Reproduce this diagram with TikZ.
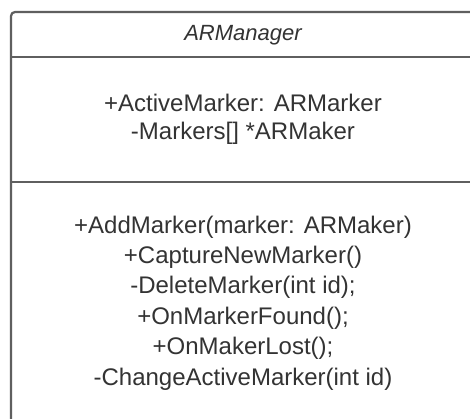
\documentclass[tikz,border=0pt]{standalone}
\usepackage{fontspec}
\setmainfont{Liberation Sans}
\definecolor{umlline}{HTML}{5F5F5F}
\definecolor{umltext}{HTML}{333333}
\tikzset{
  classbox/.style={draw=umlline, line width=2.2pt, rounded corners=4pt},
  divider/.style={draw=umlline, line width=2.2pt},
  classname/.style={anchor=base, inner sep=0pt, text=umltext, font=\fontsize{22}{26}\selectfont\itshape},
  member/.style={anchor=base, inner sep=0pt, text=umltext, font=\fontsize{24}{29}\selectfont},
}
\begin{document}
\begin{tikzpicture}[x=1pt, y=-1pt]
  \useasboundingbox (0,0) rectangle (470,418);
  \clip (0,0) rectangle (470,418);
  \fill[white] (0,0) rectangle (470,418);

  % class frame and compartment dividers
  \draw[classbox] (11,12) rectangle (476,440);
  \coordinate (divAl) at (11,57);
  \coordinate (divAr) at (476,57);
  \coordinate (divBl) at (11,182);
  \coordinate (divBr) at (476,182);
  \draw[divider] (divAl) -- (divAr);
  \draw[divider] (divBl) -- (divBr);

  % class name
  \node[classname] (name) at (243,40) {ARManager};

  % attributes
  \node[member] (attr1) at (243,111) {+ActiveMarker: ARMarker};
  \node[member] (attr2) at (243,139) {-Markers[] *ARMaker};

  % operations
  \node[member] (op1) at (243,233) {+AddMarker(marker: ARMaker)};
  \node[member] (op2) at (243,263.4) {+CaptureNewMarker()};
  \node[member] (op3) at (243,293.8) {-DeleteMarker(int id);};
  \node[member] (op4) at (243,324.2) {+OnMarkerFound();};
  \node[member] (op5) at (243,354.6) {+OnMakerLost();};
  \node[member] (op6) at (243,385) {-ChangeActiveMarker(int id)};
\end{tikzpicture}
\end{document}
